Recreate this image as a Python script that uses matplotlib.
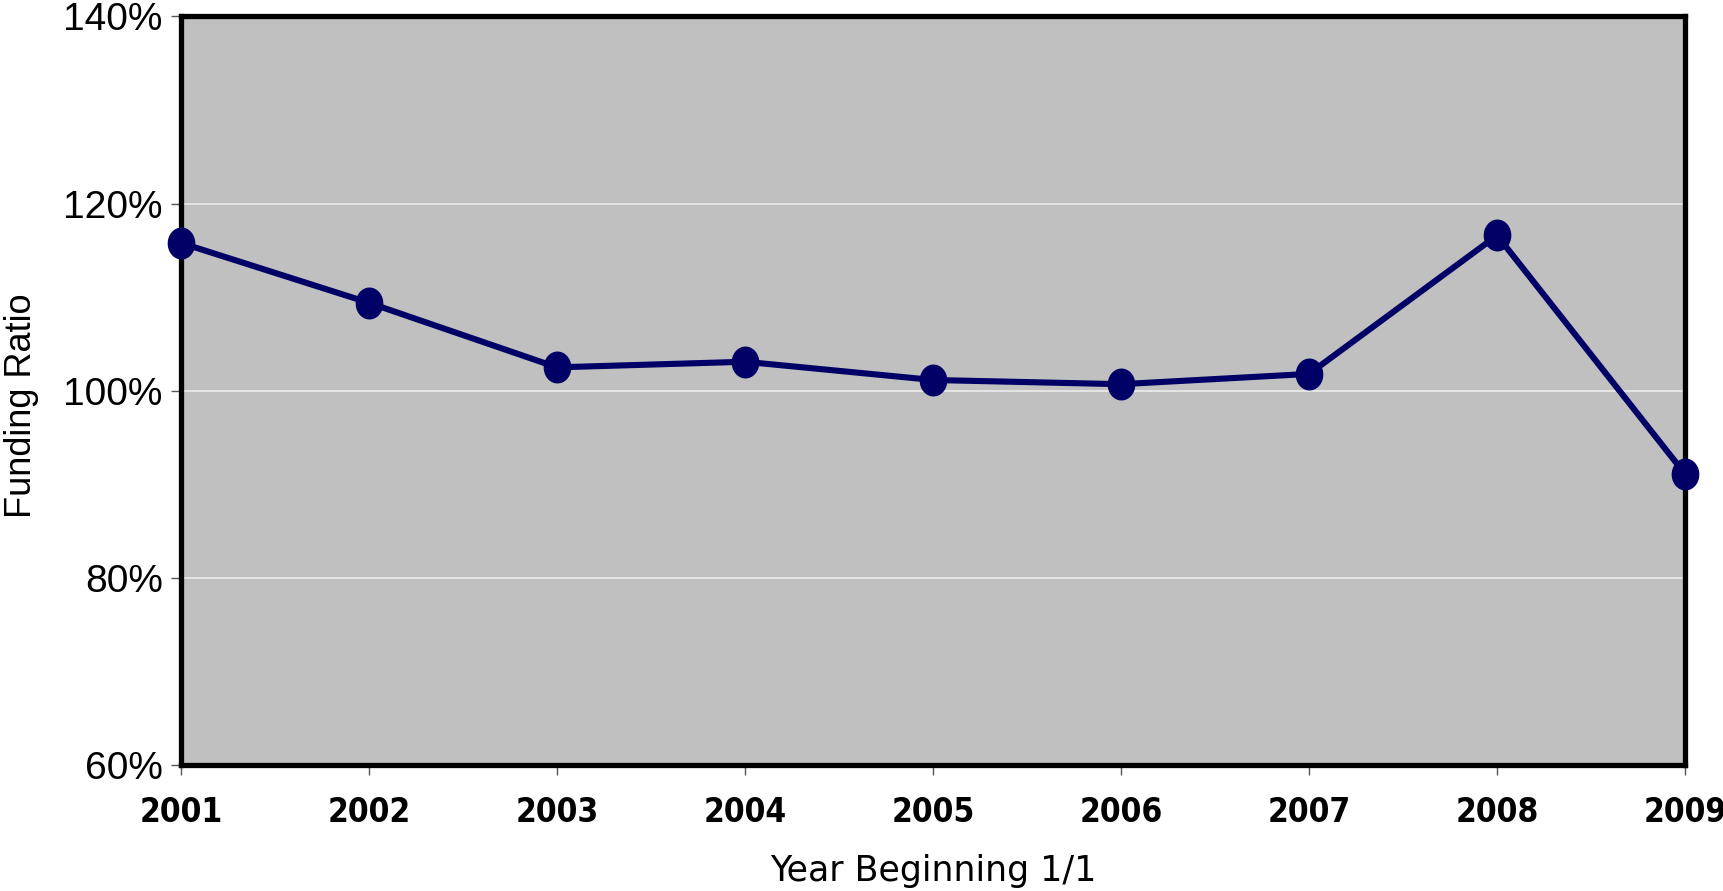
import numpy as np
import matplotlib
matplotlib.use("Agg")
import matplotlib.pyplot as plt
from matplotlib.path import Path
from matplotlib.ticker import FuncFormatter

years = [2001, 2002, 2003, 2004, 2005, 2006, 2007, 2008, 2009]
funding_ratio = [115.8, 109.4, 102.5, 103.1, 101.15, 100.7, 101.8, 116.6, 91.1]
y_ticks = [60, 80, 100, 120, 140]

NAVY = "#000066"
PANEL = "#c0c0c0"

# slightly tall ellipse for the point markers
t = np.linspace(0, 2 * np.pi, 60)
ellipse = Path(np.column_stack([0.86 * np.cos(t), np.sin(t)]), closed=True)

fig = plt.figure(figsize=(17.23, 8.91), dpi=100)
ax = fig.add_axes([0.105, 0.1414, 0.873, 0.8401])
ax.set_facecolor(PANEL)

ax.plot(years, funding_ratio, color=NAVY, lw=4.4, marker=ellipse, ms=22,
        mfc=NAVY, mec=NAVY, clip_on=False, zorder=5)

ax.set_xlim(years[0], years[-1])
ax.set_ylim(y_ticks[0], y_ticks[-1])
ax.set_xticks(years)
ax.set_yticks(y_ticks)
ax.yaxis.set_major_formatter(FuncFormatter(lambda v, p: f"{v:.0f}%"))

ax.grid(axis="y", color="#ececec", lw=1.2)
ax.set_axisbelow(True)

for s in ax.spines.values():
    s.set_color("black")
    s.set_linewidth(3.8)

ax.tick_params(axis="y", length=7, width=1, color="#555555", pad=6,
               labelsize=28, labelfontfamily="Liberation Sans")
ax.tick_params(axis="x", length=7, width=1, color="#555555", pad=15,
               labelsize=24)
for lbl in ax.get_xticklabels():
    lbl.set_fontweight("bold")
    lbl.set_fontstretch("condensed")

ax.set_xlabel("Year Beginning 1/1", fontsize=25)
ax.xaxis.set_label_coords(0.5, -0.142)
ax.xaxis.label.set_va("center")
ax.set_ylabel("Funding Ratio", fontsize=26, family="Liberation Sans")
ax.yaxis.set_label_coords(-0.106, 0.48)
ax.yaxis.label.set_va("center")

fig.savefig("out.png", dpi=100)
